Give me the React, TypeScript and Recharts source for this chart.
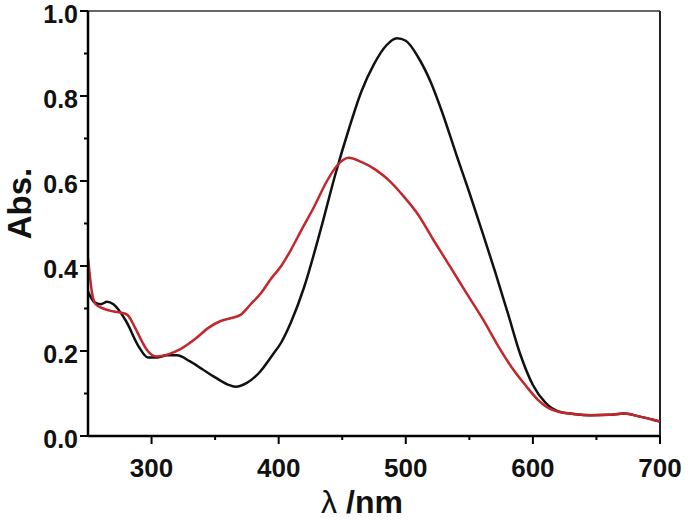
import React from "react";
import { LineChart, Line, XAxis, YAxis, ReferenceLine } from "recharts";

// black spectrum (nm, Abs.)
const blackNm = [
  250, 255, 260, 265, 270, 280, 290, 297, 305, 312, 320, 330, 340, 350, 360, 366,
  375, 385, 395, 402, 410, 420, 433, 445, 455, 465, 475, 485, 493, 500, 510, 520,
  528, 540, 550, 560, 570, 580, 590, 600, 610, 620, 632, 646, 660, 672, 685, 700,
];
const blackAbs = [
  0.34, 0.315, 0.31, 0.316, 0.31, 0.27, 0.21, 0.185, 0.185, 0.19, 0.19, 0.176, 0.157,
  0.138, 0.121, 0.116, 0.125, 0.15, 0.19, 0.22, 0.27, 0.35, 0.485, 0.62, 0.72, 0.81,
  0.875, 0.92, 0.936, 0.93, 0.89, 0.83, 0.767, 0.66, 0.573, 0.482, 0.389, 0.292,
  0.193, 0.12, 0.078, 0.058, 0.052, 0.049, 0.05, 0.053, 0.045, 0.034,
];

// red spectrum (nm, Abs.)
const redNm = [
  250, 253, 256, 262, 270, 276, 281, 287, 292, 297, 304, 313, 323, 335, 345, 354,
  362, 370, 378, 386, 394, 402, 410, 418, 428, 438, 447, 455, 465, 477, 488, 498,
  509, 522, 535, 548, 561, 572, 583, 594, 604, 612, 620, 632, 646, 660, 672, 685, 700,
];
const redAbs = [
  0.42, 0.34, 0.31, 0.3, 0.293, 0.29, 0.285, 0.255, 0.225, 0.2, 0.187, 0.192, 0.205,
  0.23, 0.255, 0.27, 0.277, 0.285, 0.31, 0.336, 0.37, 0.4, 0.44, 0.485, 0.54, 0.6,
  0.64, 0.655, 0.645, 0.625, 0.598, 0.565, 0.524, 0.46, 0.398, 0.335, 0.273, 0.215,
  0.163, 0.12, 0.085, 0.066, 0.057, 0.052, 0.049, 0.05, 0.053, 0.045, 0.034,
];

const xTicks = [300, 350, 400, 450, 500, 550, 600, 650, 700];
const yTicks = [0, 0.1, 0.2, 0.3, 0.4, 0.5, 0.6, 0.7, 0.8, 0.9, 1.0];

const blackData = blackNm.map((nm, i) => ({ nm, abs: blackAbs[i] }));
const redData = redNm.map((nm, i) => ({ nm, abs: redAbs[i] }));

const FONT = '"Liberation Sans", Arial, sans-serif';

function YTick(props: any) {
  const { x, y, payload } = props;
  const v = Math.round(payload.value * 10);
  const major = v % 2 === 0;
  return (
    <g>
      <line x1={x} x2={x - (major ? 8 : 4)} y1={y} y2={y} stroke="#000" strokeWidth={2} />
      {major && (
        <text
          x={x - 10}
          y={y}
          dy={12}
          textAnchor="end"
          fontFamily={FONT}
          fontWeight="bold"
          fontSize={25}
          fill="#111"
        >
          {payload.value.toFixed(1)}
        </text>
      )}
    </g>
  );
}

function XTick(props: any) {
  const { x, y, payload } = props;
  const major = payload.value % 100 === 0;
  return (
    <g>
      <line x1={x} x2={x} y1={y} y2={y + (major ? 8 : 4)} stroke="#000" strokeWidth={2} />
      {major && (
        <text
          x={x}
          y={y + 41}
          textAnchor="middle"
          fontFamily={FONT}
          fontWeight="bold"
          fontSize={26}
          fill="#111"
        >
          {payload.value}
        </text>
      )}
    </g>
  );
}

function XTitle(props: any) {
  const vb = props.viewBox;
  return (
    <text
      x={vb.x + vb.width / 2 - 12}
      y={vb.y + vb.height - 7}
      textAnchor="middle"
      fontFamily={FONT}
      fontSize={32}
      fill="#111"
    >
      <tspan fontWeight="normal">λ</tspan>
      <tspan fontWeight="bold"> /nm</tspan>
    </text>
  );
}

function YTitle(props: any) {
  const vb = props.viewBox;
  const cx = vb.x + 31;
  const cy = vb.y + vb.height / 2 - 20;
  return (
    <text
      x={cx}
      y={cy}
      transform={`rotate(-90, ${cx}, ${cy})`}
      textAnchor="middle"
      fontFamily={FONT}
      fontWeight="bold"
      fontSize={33}
      fill="#111"
    >
      Abs.
    </text>
  );
}

export default function App() {
  return (
    <div style={{ position: "absolute", left: 0, top: 0, background: "#fff" }}>
      <LineChart width={688} height={520} margin={{ top: 11, right: 28, left: 0, bottom: 0 }}>
        <XAxis
          dataKey="nm"
          type="number"
          domain={[250, 700]}
          ticks={xTicks}
          allowDataOverflow
          height={84}
          tickSize={0}
          tickMargin={0}
          tickLine={false}
          tick={<XTick />}
          axisLine={{ stroke: "#000", strokeWidth: 2.5 }}
          label={<XTitle />}
        />
        <YAxis
          type="number"
          domain={[0, 1]}
          ticks={yTicks}
          width={88}
          tickSize={0}
          tickMargin={0}
          tickLine={false}
          tick={<YTick />}
          axisLine={{ stroke: "#000", strokeWidth: 2.5 }}
          label={<YTitle />}
        />
        <ReferenceLine y={1} stroke="#333" strokeWidth={1.5} />
        <ReferenceLine x={700} stroke="#222" strokeWidth={2} />
        <Line
          data={blackData}
          dataKey="abs"
          type="monotone"
          stroke="#111"
          strokeWidth={2.5}
          dot={false}
          isAnimationActive={false}
        />
        <Line
          data={redData}
          dataKey="abs"
          type="monotone"
          stroke="#c3262b"
          strokeWidth={2.5}
          dot={false}
          isAnimationActive={false}
        />
      </LineChart>
    </div>
  );
}
